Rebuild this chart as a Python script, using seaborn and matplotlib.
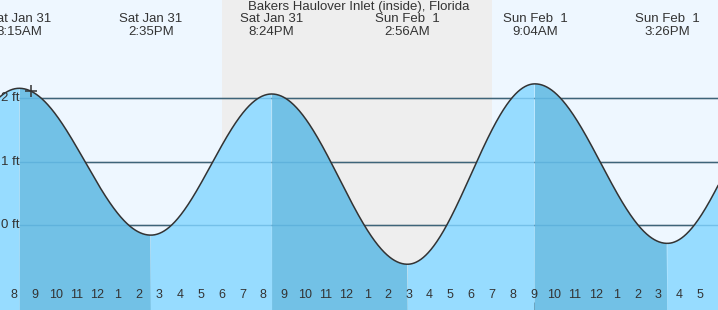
import numpy as np
import pandas as pd
import matplotlib
matplotlib.use("Agg")
import matplotlib.pyplot as plt
import matplotlib.transforms as mtransforms
import seaborn as sns

# ---- data ----
ref_time = pd.Timestamp("2026-02-01 00:00")
tide_times = ["2026-01-31 02:05", "2026-01-31 08:15", "2026-01-31 14:35",
              "2026-01-31 20:24", "2026-02-01 02:56", "2026-02-01 09:04",
              "2026-02-01 15:26", "2026-02-01 21:12"]
tide_heights = [-0.30, 2.16, -0.16, 2.07, -0.62, 2.23, -0.29, 2.10]
tide_day_labels = ["", "Sat Jan 31", "Sat Jan 31", "Sat Jan 31",
                   "Sun Feb  1", "Sun Feb  1", "Sun Feb  1", ""]
tide_time_labels = ["", "8:15AM", "2:35PM", "8:24PM", "2:56AM", "9:04AM", "3:26PM", ""]
sunset = "2026-01-31 18:01"
sunrise = "2026-02-01 07:01"
now_time = "2026-01-31 08:48"
y_ticks = [0, 1, 2]
y_tick_labels = ["0 ft", "1 ft", "2 ft"]
hour_ticks = list(range(-16, 18))
title = "Bakers Haulover Inlet (inside), Florida"

def hrs(s):
    return (pd.Timestamp(s) - ref_time).total_seconds() / 3600.0

ev_h = np.array([hrs(t) for t in tide_times])
ev_v = np.array(tide_heights)

def tide_at(t):
    t = np.atleast_1d(t)
    out = np.empty_like(t, dtype=float)
    for k, tt in enumerate(t):
        i = np.searchsorted(ev_h, tt) - 1
        i = min(max(i, 0), len(ev_h) - 2)
        f = (tt - ev_h[i]) / (ev_h[i + 1] - ev_h[i])
        out[k] = ev_v[i] + (ev_v[i + 1] - ev_v[i]) * (1 - np.cos(np.pi * f)) / 2
    return out

xmin, xmax = -16.675, 17.878
ymin, ymax = -1.343, 3.555
t = np.linspace(xmin, xmax, 1500)
v = tide_at(t)
df = pd.DataFrame({"hour": t, "height": v})

# falling tide segments (after a high until next low)
falling = np.zeros_like(t, dtype=bool)
for i in range(len(ev_h) - 1):
    if ev_v[i] > ev_v[i + 1]:
        falling |= (t >= ev_h[i]) & (t <= ev_h[i + 1])

plt.rcParams["font.family"] = ["Liberation Sans", "DejaVu Sans"]
fig = plt.figure(figsize=(7.18, 3.10), dpi=100)
ax = fig.add_axes([0, 0, 1, 1])
ax.set_xlim(xmin, xmax)
ax.set_ylim(ymin, ymax)
ax.set_facecolor("#eef7ff")
for s in ax.spines.values():
    s.set_visible(False)

ax.axvspan(hrs(sunset), hrs(sunrise), color="#eeeeee", zorder=0, lw=0)

for yv in y_ticks:
    ax.axhline(yv, xmin=20 / 718, xmax=1, color="#333333", lw=1.0, zorder=1)

light = "#97dcff"
dark = "#72c1e6"
ax.fill_between(t, ymin, v, where=~falling, color=light, lw=0, zorder=2, interpolate=True)
ax.fill_between(t, ymin, v, where=falling, color=dark, lw=0, zorder=2, interpolate=True)

for yv in y_ticks:
    ax.axhline(yv, xmin=20 / 718, xmax=1, color="#4aa0d0", lw=1.0, alpha=0.45, zorder=3)

sns.lineplot(data=df, x="hour", y="height", ax=ax, color="#333333", lw=1.1,
             zorder=4, legend=False)
ax.set_xlabel("")
ax.set_ylabel("")

nh = hrs(now_time)
ax.plot([nh], tide_at(nh), marker="+", ms=8, mew=1.1, color="#333333", zorder=5)

# y labels
for yv, lab in zip(y_ticks, y_tick_labels):
    ax.text(19.5 / 718, yv, lab, transform=mtransforms.blended_transform_factory(ax.transAxes, ax.transData),
            ha="right", va="center", fontsize=9.5, color="#333333", zorder=6)

# hour ticks
ax.set_yticks([])
ax.set_xticks(hour_ticks)
ax.set_xticklabels([])
ax.tick_params(axis="x", direction="in", length=6, width=1, color="#333333", pad=0)
for tk, h in zip(ax.xaxis.get_major_ticks(), hour_ticks):
    if h == 0:
        tk.tick1line.set_markeredgewidth(3)
trans_x = mtransforms.blended_transform_factory(ax.transData, ax.transAxes)
for h in hour_ticks:
    lab = str((h % 12) or 12)
    ax.text(h, (310 - 295.5) / 310, lab, transform=trans_x, ha="center", va="center",
            fontsize=9, color="#333333", zorder=6)

# event labels
for h, d, tl in zip(ev_h, tide_day_labels, tide_time_labels):
    if not d:
        continue
    ax.text(h, 1 - 19 / 310, d, transform=trans_x, ha="center", va="center",
            fontsize=9.5, color="#333333", zorder=6)
    ax.text(h, 1 - 32 / 310, tl, transform=trans_x, ha="center", va="center",
            fontsize=9.5, color="#333333", zorder=6)

fig.text(359 / 718, 1 - 7 / 310, title, ha="center", va="center", fontsize=9.5, color="#333333")

fig.savefig("out.png", dpi=100)
